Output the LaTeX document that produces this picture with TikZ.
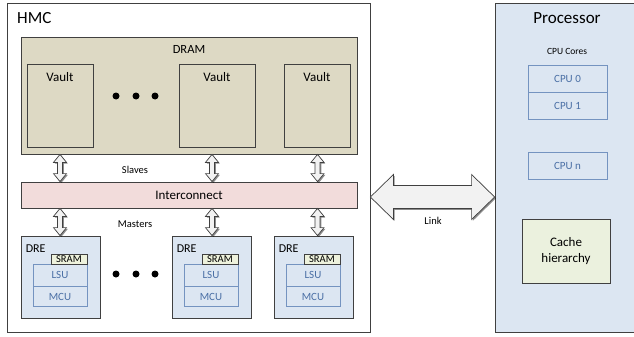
\documentclass[tikz,border=0pt]{standalone}
\usepackage{fontspec}
\setmainfont{Carlito}
\usetikzlibrary{shadows,calc}
\definecolor{dramfill}{HTML}{DDD9C4}
\definecolor{icfill}{HTML}{F2DCDB}
\definecolor{bluefill}{HTML}{DCE6F2}
\definecolor{sramfill}{HTML}{EEF2DC}
\definecolor{cachefill}{HTML}{EBF1DE}
\definecolor{bluedraw}{HTML}{7493C0}
\definecolor{bluetext}{HTML}{4A6FA5}
\definecolor{edge}{HTML}{404040}
\definecolor{arrowfill}{HTML}{F2F2F2}
\newcommand\vdarrow[2]{%
  \draw[hollow] let \p1=(#1),\p2=(#2) in
  (\x1,\y1) -- (\x1+6.5pt,\y1-8pt) -- (\x1+2.5pt,\y1-8pt) -- (\x1+2.5pt,\y2+8pt)
  -- (\x1+6.5pt,\y2+8pt) -- (\x1,\y2) -- (\x1-6.5pt,\y2+8pt) -- (\x1-2.5pt,\y2+8pt)
  -- (\x1-2.5pt,\y1-8pt) -- (\x1-6.5pt,\y1-8pt) -- cycle;}
\begin{document}
\begin{tikzpicture}[x=1pt,y=-1pt,
  sh/.style={drop shadow={shadow xshift=1.3pt,shadow yshift=-1.3pt,opacity=0.45,fill=black}},
  box/.style={draw=edge,line width=0.8pt,inner sep=0pt,sh},
  inbox/.style={draw=bluedraw,line width=0.7pt,inner sep=0pt,text=bluetext,
    font=\fontsize{11}{13}\selectfont},
  hollow/.style={draw=edge,line width=0.7pt,fill=arrowfill,sh},
  dot/.style={circle,fill=black,minimum size=7pt,inner sep=0pt},
  lbl/.style={inner sep=0pt,font=\fontsize{10.5}{12}\selectfont},
  big/.style={inner sep=0pt,font=\fontsize{17}{20}\selectfont},
  mid/.style={inner sep=0pt,font=\fontsize{13}{15}\selectfont},
  drebox/.style={box,fill=bluefill,minimum width=79pt,minimum height=82pt},
  vaultbox/.style={box,fill=dramfill,minimum width=66pt,minimum height=83pt},
  srambox/.style={draw=edge,line width=0.7pt,fill=sramfill,inner sep=0pt,
    minimum width=36pt,minimum height=10pt,anchor=north west,font=\fontsize{10.5}{12}\selectfont},
  cpubox/.style={inbox,minimum width=79pt,minimum height=27pt}]
\useasboundingbox (0,0) rectangle (634,337);
% HMC
\node[box,fill=white,minimum width=363pt,minimum height=329pt] (hmc) at (188.5,167.5) {};
\node[big,anchor=west] (hmct) at (17,18) {HMC};
% Processor (extends past right edge)
\begin{scope}
\clip (0,0) rectangle (634,337);
\node[box,fill=bluefill,minimum width=144pt,minimum height=329pt] (proc) at (567,167.5) {};
\end{scope}
\node[big] (proct) at (567,18) {Processor};
\node[inner sep=0pt,font=\fontsize{9.5}{11}\selectfont] (cores) at (567,51) {CPU Cores};
\node[cpubox] (cpu0) at (567.5,78.5) {CPU 0};
\node[cpubox] (cpu1) at (567.5,105.5) {CPU 1};
\node[cpubox] (cpun) at (567.5,165.5) {CPU n};
\node[box,fill=cachefill,minimum width=88pt,minimum height=64pt,align=center,
  font=\fontsize{13}{16}\selectfont] (cache) at (566,251) {Cache\\hierarchy};
% DRAM
\node[box,fill=dramfill,minimum width=336pt,minimum height=117pt] (dram) at (189,95.5) {};
\node[inner sep=0pt,font=\fontsize{12.5}{14}\selectfont] (dramt) at (189,49) {DRAM};
\node[vaultbox] (v1) at (60,105.5) {};
\node[vaultbox,minimum width=76pt] (v2) at (217,105.5) {};
\node[vaultbox] (v3) at (317,105.5) {};
\node[mid] at (v1.north |- 0,77) {Vault};
\node[mid] at (v2.north |- 0,77) {Vault};
\node[mid] at (v3.north |- 0,77) {Vault};
\node[dot] (d1) at (116,96) {};
\node[dot] (d2) at (136,96) {};
\node[dot] (d3) at (155,96) {};
% Interconnect
\node[box,fill=icfill,minimum width=336pt,minimum height=26pt,mid] (ic) at (189,195) {Interconnect};
\node[lbl] (slaves) at (135,170) {Slaves};
\node[lbl] (masters) at (135,224) {Masters};
% DREs
\foreach \n/\x in {1/60.5,2/211.5,3/313.5}{
  \node[drebox] (dre\n) at (\x,277) {};
  \node[inner sep=0pt,anchor=west,font=\fontsize{12}{14}\selectfont] (dret\n) at ($(dre\n.north west)+(5,13)$) {DRE};
  \node[inbox,anchor=north west,minimum width=54pt,minimum height=22pt] (lsu\n) at ($(dre\n.north west)+(12,28)$) {LSU};
  \node[inbox,anchor=north,minimum width=54pt,minimum height=20pt] (mcu\n) at (lsu\n.south) {MCU};
  \node[srambox] (sram\n) at ($(dre\n.north west)+(30,18)$) {SRAM};
}
\node[dot] (e1) at (116,274) {};
\node[dot] (e2) at (136,274) {};
\node[dot] (e3) at (155,274) {};
% vertical arrows
\coordinate (c1) at (60,0);
\coordinate (c2) at (212,0);
\coordinate (c3) at (317.5,0);
\foreach \i in {1,2,3}{
  \vdarrow{dram.south -| c\i}{ic.north -| c\i}
  \vdarrow{ic.south -| c\i}{dre\i.north -| c\i}
}
% Link arrow
\coordinate (ly) at (0,197);
\draw[hollow] let \p1=(hmc.east |- ly),\p2=(proc.west |- ly) in
  (\x1,\y1) -- (\x1+23pt,\y1+22.5pt) -- (\x1+23pt,\y1+11.5pt) -- (\x2-23pt,\y1+11.5pt)
  -- (\x2-23pt,\y1+22.5pt) -- (\x2,\y1) -- (\x2-23pt,\y1-22.5pt) -- (\x2-23pt,\y1-11.5pt)
  -- (\x1+23pt,\y1-11.5pt) -- (\x1+23pt,\y1-22.5pt) -- cycle;
\node[lbl] (link) at (433,221) {Link};
\end{tikzpicture}
\end{document}
